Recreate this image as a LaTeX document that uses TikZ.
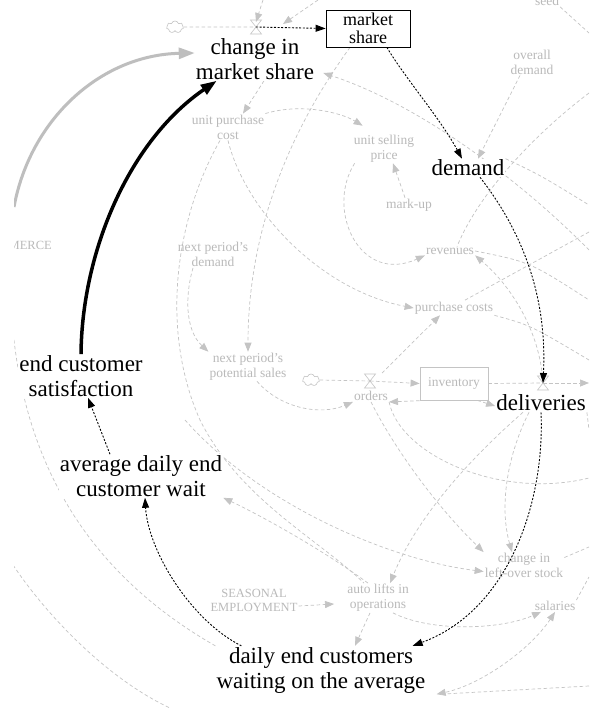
\documentclass[tikz,border=0pt]{standalone}
\usepackage{fontspec}
\setmainfont{Liberation Serif}
\usetikzlibrary{arrows.meta,shapes.symbols,backgrounds}

\definecolor{lgrey}{RGB}{196,196,196}
\definecolor{tgrey}{RGB}{186,186,186}
\definecolor{agrey}{RGB}{190,190,190}

\newcommand\valve[1]{\draw[lgrey,line width=.6pt] ([shift={(-5.5,-7)}]#1) -- ++(11,0) -- ++(-11,14) -- ++(11,0) -- cycle;}

\begin{document}
\begin{tikzpicture}[x=1pt,y=-1pt,
    blk/.style={align=center,inner sep=1pt,fill=white,font=\fontsize{23}{25}\selectfont},
    gry/.style={align=center,inner sep=1pt,text=tgrey,font=\fontsize{13.5}{15}\selectfont},
    lnk/.style={lgrey,line width=.7pt,dash pattern=on 3.5pt off 2.5pt,-{Triangle[length=9pt,width=7pt]}},
    pipe/.style={lgrey,line width=.7pt,dash pattern=on 3.5pt off 2.5pt},
    blnk/.style={black,line width=.9pt,dash pattern=on 2pt off 1.6pt,-{Triangle[length=10pt,width=7pt]}}]
    \useasboundingbox (0,0) rectangle (589,708);

    % black variables
    \node[blk] (chgms) at (255,59) {change in\\market share};
    \node[draw,fill=white,line width=.8pt,minimum width=84pt,minimum height=37pt,inner sep=0pt,align=center,font=\fontsize{18}{18}\selectfont] (mshare) at (368,28.5) {market\\share};
    \node[blk] (demand) at (468,168) {demand};
    \node[blk] (deliv) at (541,403) {deliveries};
    \node[blk] (ecsat) at (81,376) {end customer\\satisfaction};
    \node[blk] (avgwait) at (141,476) {average daily end\\customer wait};
    \node[blk] (dwait) at (321,670) {daily end customers\\waiting on the average};

    % grey variables
    \node[gry] (seed) at (547,1) {seed};
    \node[gry] (overall) at (532,62) {overall\\demand};
    \node[gry] (upc) at (228,127) {unit purchase\\cost};
    \node[gry] (usp) at (384,148.5) {unit selling\\price};
    \node[gry] (markup) at (409,205) {mark-up};
    \node[gry] (rev) at (450,251) {revenues};
    \node[gry] (npd) at (213,254.5) {next period's\\demand};
    \node[gry] (pcost) at (454,308) {purchase costs};
    \node[gry] (npps) at (248,366.5) {next period's\\potential sales};
    \node[gry] (orders) at (371,396) {orders};
    \node[gry,draw=lgrey,line width=.8pt,minimum width=68pt,minimum height=33pt] (inv) at (454,383.5) {inventory};
    \node[gry] (lostock) at (524,565.5) {change in\\left-over stock};
    \node[gry,font=\fontsize{12.5}{14}\selectfont] (seas) at (254,600) {SEASONAL\\EMPLOYMENT};
    \node[gry] (autol) at (378,598) {auto lifts in\\operations};
    \node[gry] (sal) at (555,606) {salaries};

    \coordinate (v1) at (256,27);
    \coordinate (v2) at (370,381);
    \coordinate (v3) at (543,383);
    \coordinate (t1) at (263,0);
    \coordinate (t2) at (318,0);
    \coordinate (e1) at (283,24);
    \coordinate (r1) at (589,250);
    \coordinate (r2) at (589,93);
    \coordinate (r3) at (589,360);
    \coordinate (r4) at (589,300);
    \coordinate (r5) at (589,232);
    \coordinate (r6) at (589,478);
    \coordinate (rr) at (589,383);
    \coordinate (r7) at (589,686);
    \coordinate (r9) at (589,547);
    \coordinate (r10) at (589,577);
    \coordinate (r11) at (589,205);
    \coordinate (r12) at (589,430);
    \coordinate (r13) at (589,33);
    \coordinate (l1) at (185,420);
    \coordinate (l3) at (14,340);
    \coordinate (l4) at (13,565);
    \coordinate (l5) at (170,708);
    \coordinate (ml) at (14,207);

    \begin{scope}[on background layer]
    \fill[white] (0,0) rectangle (589,708);
    \clip (14,0) rectangle (589,708);
    \node[gry,anchor=east,font=\fontsize{12.5}{14}\selectfont] (merce) at (53,245) {MERCE};
    \node[cloud,cloud puffs=7,cloud ignores aspect,draw=lgrey,line width=.6pt,minimum width=17pt,minimum height=12pt,inner sep=0pt] (c1) at (175,27) {};
    \node[cloud,cloud puffs=7,cloud ignores aspect,draw=lgrey,line width=.6pt,minimum width=17pt,minimum height=12pt,inner sep=0pt] (c2) at (311,380) {};
    \valve{v1}
    \valve{v2}
    \valve{v3}
    % flows
    \draw[pipe] (c1.east) -- (v1);
    \draw[pipe] (c2.east) -- (v2);
    \draw[lnk] (v2) -- (inv.west);
    \draw[pipe] (inv.east) -- (v3);
    \draw[lnk] (v3) -- (rr);
    % links
    \draw[lnk] (t1) -- ([yshift=5pt]v1);
    \draw[lnk] (t2) -- (e1);
    \draw[lnk] (r1) .. controls (520,180) and (420,105) .. ([xshift=8pt,yshift=-14pt]chgms.east);
    \draw[lnk] ([xshift=-18pt]mshare.south) .. controls (290,130) and (248,230) .. (npps.north);
    \draw[lnk] ([xshift=9pt]chgms.south) -- ([xshift=15pt]upc.north);
    \draw[lnk] (upc.north east) .. controls (300,103) and (340,112) .. ([xshift=10pt,yshift=8pt]usp.north west);
    \draw[lnk] (upc.south) .. controls (245,210) and (320,290) .. (pcost.west);
    \draw[pipe] ([xshift=-8pt]upc.south) .. controls (175,220) and (160,330) .. (200,420) .. controls (240,500) and (320,540) .. ([xshift=-14pt]autol.north);
    \draw[lnk] ([xshift=15pt]autol.south) .. controls (430,632) and (500,630) .. ([xshift=-14pt]sal.south);
    \draw[lnk] ([xshift=-20pt]npd.south) .. controls (185,295) and (185,330) .. (npps.north west);
    \draw[lnk] ([xshift=9pt]npps.south) .. controls (280,408) and (320,416) .. (orders.south west);
    \draw[lnk] ([xshift=12pt,yshift=8pt]v2) -- ([xshift=-14pt]pcost.south);
    \draw[lnk] ([xshift=6pt]inv.south west) -- (orders.south east);
    \draw[lnk] ([xshift=-11pt]inv.south east) -- ([yshift=-3pt]deliv.west);
    \draw[lnk] ([xshift=-12pt]overall.south) -- ([xshift=10pt]demand.north);
    \draw[pipe] (r2) .. controls (540,130) and (480,190) .. ([xshift=7pt]rev.north);
    \draw[lnk] ([xshift=-4pt]markup.north) -- ([xshift=9pt]usp.south);
    \draw[lnk] ([xshift=2pt]usp.south west) .. controls (325,210) and (360,285) .. (rev.south west);
    \draw[lnk] (v3) .. controls (540,330) and (510,285) .. (rev.south east);
    \draw[pipe] (pcost.south east) .. controls (530,325) .. (r3);
    \draw[pipe] (rev.east) .. controls (530,262) .. (r4);
    \draw[pipe] (r5) -- ([xshift=10pt]pcost.north);
    \draw[lnk] ([xshift=-18pt]deliv.south) .. controls (480,450) and (420,510) .. ([xshift=12pt]autol.north);
    \draw[lnk] ([xshift=-12pt]deliv.south) .. controls (505,460) and (500,510) .. ([xshift=-12pt]lostock.north);
    \draw[lnk] (orders.south) .. controls (390,440) and (430,500) .. (lostock.north west);
    \draw[pipe] (orders.south east) .. controls (400,455) and (500,500) .. (r6);
    \draw[lnk] (l1) .. controls (260,505) and (390,560) .. ([yshift=-6pt]lostock.west);
    \draw[lnk] ([xshift=-10pt]autol.north) .. controls (330,555) and (270,520) .. (avgwait.south east);
    \draw[lnk] ([yshift=-6pt]seas.east) -- ([xshift=-12pt,yshift=-6pt]autol.west);
    \draw[lnk] ([xshift=-8pt]autol.south) -- ([xshift=34pt]dwait.north);
    \draw[lnk,{Triangle[length=9pt,width=7pt]}-{Triangle[length=9pt,width=7pt]}] (sal.south) .. controls (530,650) and (480,685) .. ([xshift=10pt]dwait.south east);
    \draw[pipe] (r7) -- ([xshift=14pt]dwait.south east);
    \draw[pipe] ([yshift=8pt]lostock.east) -- (r9);
    \draw[pipe] ([yshift=6pt]sal.east) -- (r10);
    \draw[pipe] (deliv.south east) -- (r12);
    \draw[pipe] (demand.north east) .. controls (540,175) .. (r11);
    \draw[pipe] (seed.south east) -- (r13);
    \draw[pipe] (l3) .. controls (30,480) and (100,580) .. (dwait.north west);
    \draw[pipe] (l4) .. controls (50,620) and (110,680) .. (l5);
    % the grey loop
    \draw[agrey,line width=3pt,-{Triangle[length=16pt,width=11pt]}] (ml) .. controls (30,120) and (100,55) .. ([yshift=6pt]chgms.west);
    \end{scope}

    % highlighted loop
    \draw[blnk] (v1) -- (mshare.west);
    \draw[blnk] (mshare.-45) .. controls (405,78) and (440,118) .. ([xshift=-6pt]demand.north);
    \draw[blnk] ([xshift=12pt]demand.south) .. controls (525,235) and (547,300) .. (v3);
    \draw[blnk] (deliv.south) .. controls (545,500) and (510,610) .. ([xshift=-14pt]dwait.north east);
    \draw[blnk] ([xshift=26pt]dwait.north west) .. controls (190,620) and (148,550) .. ([xshift=4pt]avgwait.south);
    \draw[blnk] ([xshift=-31pt]avgwait.north) -- ([xshift=7pt]ecsat.south);
    \draw[line width=3.5pt,-{Triangle[length=16pt,width=11pt]}] (ecsat.north) .. controls (82,250) and (130,140) .. ([xshift=22pt]chgms.south west);
\end{tikzpicture}
\end{document}
